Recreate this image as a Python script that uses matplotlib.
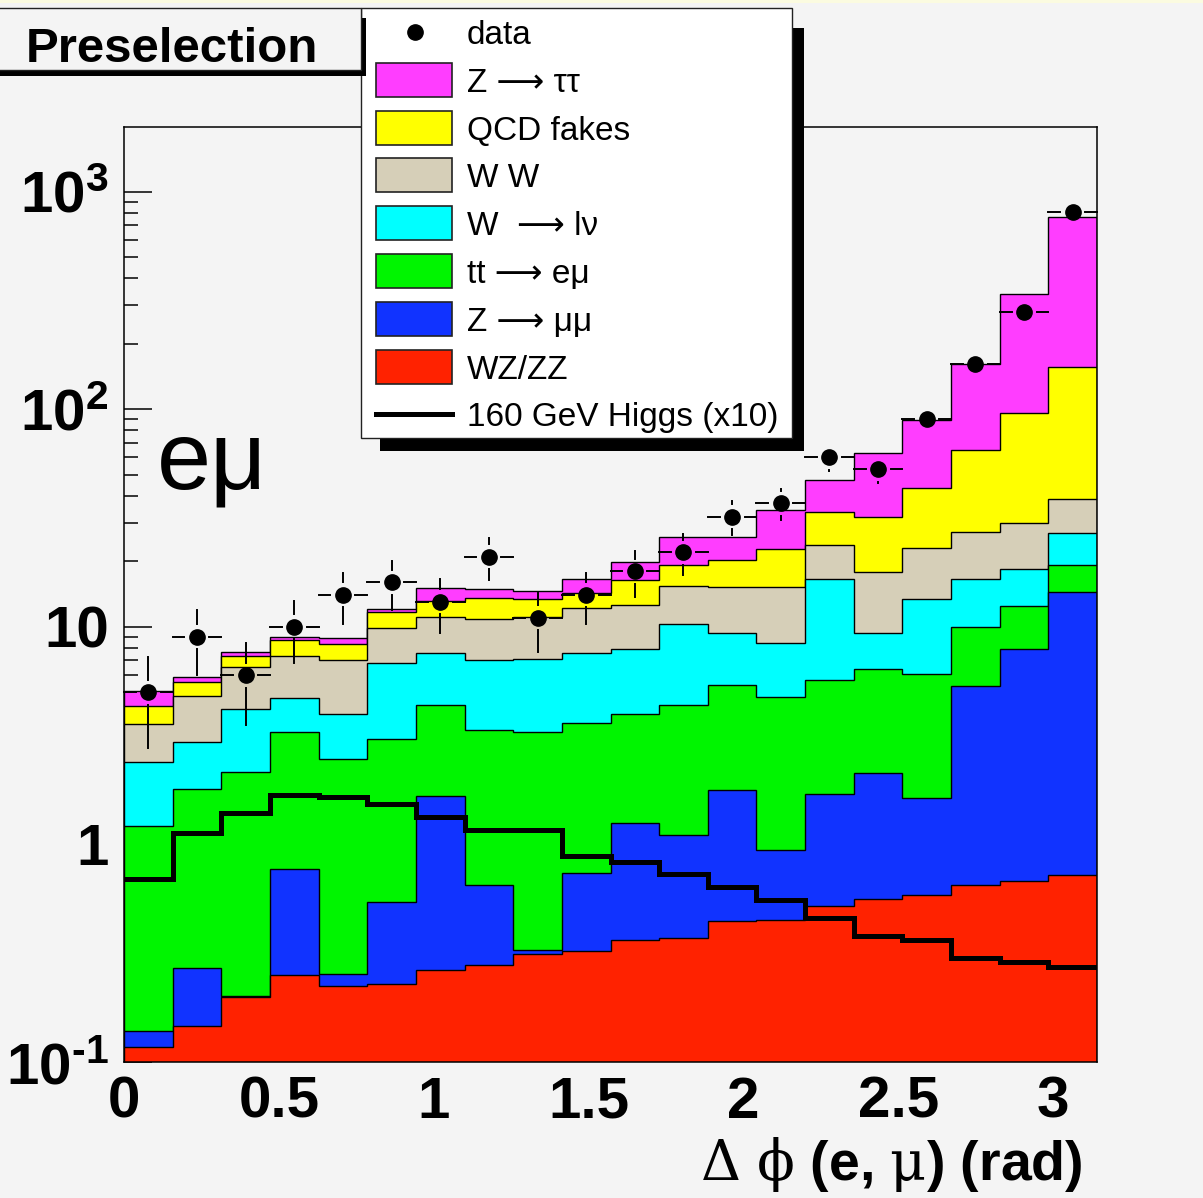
import numpy as np
import matplotlib
matplotlib.use("Agg")
import matplotlib.pyplot as plt
from matplotlib.patches import Rectangle
from matplotlib.lines import Line2D
from matplotlib.ticker import FixedLocator, LogLocator, NullFormatter

W, H = 1203, 1198
DPI = 100

plt.rcParams["font.family"] = ["Liberation Sans", "DejaVu Sans"]
plt.rcParams["mathtext.fontset"] = "custom"
plt.rcParams["mathtext.rm"] = "Liberation Sans:bold"
plt.rcParams["mathtext.it"] = "Liberation Sans:bold"
plt.rcParams["mathtext.bf"] = "Liberation Sans:bold"
plt.rcParams["mathtext.sf"] = "DejaVu Serif"
plt.rcParams["mathtext.default"] = "rm"

# 20 bins of delta phi(e, mu) between 0 and pi
n_bins = 20
bin_edges = np.linspace(0, np.pi, n_bins + 1)

data_counts = [5, 9, 6, 10, 14, 16, 13, 21, 11, 14, 18, 22, 32, 37, 60, 53, 90, 161, 280, 807]

# stack components, bottom to top
wz_zz = [0.117, 0.146, 0.198, 0.250, 0.223, 0.229, 0.264, 0.280, 0.313, 0.322,
         0.363, 0.370, 0.443, 0.451, 0.520, 0.562, 0.586, 0.651, 0.680, 0.725]
z_mumu = [0.022, 0.125, 0.003, 0.518, 0.030, 0.316, 1.40, 0.371, 0.013, 0.420,
          0.892, 0.736, 1.34, 0.492, 1.19, 1.57, 1.05, 4.71, 7.20, 13.8]
ttbar = [1.08, 1.52, 1.94, 2.53, 2.22, 2.49, 2.70, 2.72, 2.95, 2.86,
         2.70, 3.26, 3.59, 3.82, 3.99, 4.27, 4.40, 4.63, 4.64, 4.66]
w_lnu = [1.16, 1.16, 2.04, 1.42, 1.52, 3.75, 3.18, 3.67, 3.82, 4.01,
         3.98, 5.91, 4.00, 3.66, 10.9, 3.01, 7.41, 6.56, 5.89, 7.91]
ww = [1.18, 1.85, 2.32, 2.61, 3.08, 3.12, 3.58, 3.87, 4.03, 4.57,
      4.61, 5.20, 5.93, 6.88, 7.09, 8.47, 9.48, 10.6, 11.6, 11.6]
qcd_fakes = [0.76, 0.77, 0.84, 1.36, 1.22, 1.82, 2.00, 2.67, 2.29, 2.05,
             3.83, 3.71, 4.91, 7.48, 10.1, 13.9, 20.4, 37.7, 66.5, 117.0]
z_tautau = [0.74, 0.33, 0.32, 0.31, 0.61, 0.38, 1.99, 1.29, 1.17, 2.39,
            3.44, 6.67, 5.65, 11.5, 13.6, 31.1, 45.4, 95.9, 240.0, 605.0]

higgs_x10 = [0.69, 1.13, 1.39, 1.69, 1.65, 1.53, 1.33, 1.17, 1.17, 0.88,
             0.83, 0.73, 0.64, 0.555, 0.46, 0.378, 0.364, 0.301, 0.287, 0.272]

stack = [wz_zz, z_mumu, ttbar, w_lnu, ww, qcd_fakes, z_tautau]
stack_colors = ["#ff2200", "#1133ff", "#00f500", "#00ffff", "#d6cfb8", "#ffff00", "#ff3dff"]

legend_labels = ["data", "Z \u27f6 \u03c4\u03c4", "QCD fakes", "W W", "W  \u27f6 l\u03bd",
                 "tt \u27f6 e\u03bc", "Z \u27f6 \u03bc\u03bc", "WZ/ZZ", "160 GeV Higgs (x10)"]

bg = "#f4f4f4"
fig = plt.figure(figsize=(W / DPI, H / DPI), dpi=DPI, facecolor=bg)
ax = fig.add_axes([124 / W, 1 - 1062 / H, (1097 - 124) / W, (1062 - 127) / H])
ax.set_facecolor(bg)
ax.set_yscale("log")
ax.set_xlim(0, np.pi)
ax.set_ylim(0.1, 1980)

# stacked histograms, drawn from the top of the stack downwards
cum = np.cumsum(np.array(stack), axis=0)
for i in range(len(stack) - 1, -1, -1):
    ax.stairs(cum[i], bin_edges, baseline=1e-3, fill=True,
              facecolor=stack_colors[i], edgecolor="black", lw=1.0, zorder=2)

ax.stairs(higgs_x10, bin_edges, baseline=None, color="black", lw=3.6, zorder=3)

# data points, ROOT style error bars with a gap around the marker
centers = 0.5 * (bin_edges[:-1] + bin_edges[1:])
trans = ax.transData
inv = trans.inverted()
gap = 12.5
for xc, n, xl, xr in zip(centers, data_counts, bin_edges[:-1], bin_edges[1:]):
    err = np.sqrt(n)
    px, py = trans.transform((xc, n))
    pl, _ = trans.transform((xl, n))
    pr, _ = trans.transform((xr, n))
    _, phi = trans.transform((xc, n + err))
    _, plo = trans.transform((xc, max(n - err, 1e-3)))
    segs = []
    if pl < px - gap:
        segs.append(((pl, py), (px - gap, py)))
    if pr > px + gap:
        segs.append(((px + gap, py), (pr, py)))
    if phi > py + gap:
        segs.append(((px, py + gap), (px, phi)))
    if plo < py - gap:
        segs.append(((px, py - gap), (px, plo)))
    for a, b in segs:
        d = inv.transform([a, b])
        ax.plot(d[:, 0], d[:, 1], color="black", lw=1.4, zorder=4, clip_on=False)
ax.plot(centers, data_counts, "o", color="black", ms=11, zorder=5)

# axes styling
for sp in ax.spines.values():
    sp.set_linewidth(1.1)
    sp.set_zorder(6)
ax.set_xticks([0, 0.5, 1, 1.5, 2, 2.5, 3])
ax.set_xticklabels(["0", "0.5", "1", "1.5", "2", "2.5", "3"], fontsize=42, fontweight="bold")
ax.tick_params(axis="x", length=0, pad=10)
ax.yaxis.set_major_locator(FixedLocator([0.1, 1, 10, 100, 1000]))
ax.set_yticklabels([r"$10^{\text{-}1}$", "1", "10", r"$10^{2}$", r"$10^{3}$"],
                   fontsize=42, fontweight="bold")
ax.yaxis.set_minor_locator(LogLocator(base=10, subs=np.arange(2, 10)))
ax.yaxis.set_minor_formatter(NullFormatter())
ax.tick_params(axis="y", which="major", direction="in", length=20, width=1.1, pad=11)
ax.tick_params(axis="y", which="minor", direction="in", length=10, width=1.1)


def fx(x):
    return x / W


def fy(y):
    return 1 - y / H


# x axis title
fig.text(fx(1083), fy(1180), r"$\mathsf{\Delta\ \phi}$ (e, $\mathsf{\mu}$) (rad)",
         fontsize=40, fontweight="bold", ha="right", va="baseline")

# channel label
fig.text(fx(157), fy(489), "e\u03bc", fontsize=70, ha="left", va="baseline")

# thin strip at the very top
fig.patches.append(Rectangle((0, fy(3)), 1, 3 / H, transform=fig.transFigure,
                             facecolor="#fbfbe0", edgecolor="none"))

# legend box with shadow
fig.patches.append(Rectangle((fx(380), fy(451)), fx(804 - 380), (451 - 28) / H,
                             transform=fig.transFigure, facecolor="black",
                             edgecolor="none", zorder=10))
fig.patches.append(Rectangle((fx(361), fy(438)), fx(792 - 361), (438 - 8) / H,
                             transform=fig.transFigure, facecolor="white",
                             edgecolor="#222222", lw=1.0, zorder=11))

row_y = 32 + 47.8 * np.arange(len(legend_labels))
legend_fill = stack_colors[::-1]
for k, (label, yc) in enumerate(zip(legend_labels, row_y)):
    if k == 0:
        fig.lines.append(Line2D([fx(415)], [fy(yc)], marker="o", ms=11, color="black",
                                transform=fig.transFigure, zorder=12))
    elif k == len(legend_labels) - 1:
        fig.lines.append(Line2D([fx(376), fx(452)], [fy(yc), fy(yc)], color="black",
                                lw=3.6, transform=fig.transFigure, zorder=12))
    else:
        fig.patches.append(Rectangle((fx(376), fy(yc + 17)), fx(76), 34 / H,
                                     transform=fig.transFigure, facecolor=legend_fill[k - 1],
                                     edgecolor="#222222", lw=1.2, zorder=12))
    fig.text(fx(467), fy(yc), label, fontsize=24, ha="left", va="center_baseline", zorder=13)

# title box with shadow, on top of the legend's left edge
fig.patches.append(Rectangle((fx(0), fy(76)), fx(366), 58 / H, transform=fig.transFigure,
                             facecolor="black", edgecolor="none", zorder=20))
fig.patches.append(Rectangle((fx(-5), fy(70)), fx(366), 62 / H, transform=fig.transFigure,
                             facecolor=bg, edgecolor="#222222", lw=1.0, zorder=21))
fig.text(fx(26), fy(62), "Preselection", fontsize=35.5, fontweight="bold",
         ha="left", va="baseline", zorder=22)

fig.savefig("out.png", dpi=DPI, facecolor=bg)
